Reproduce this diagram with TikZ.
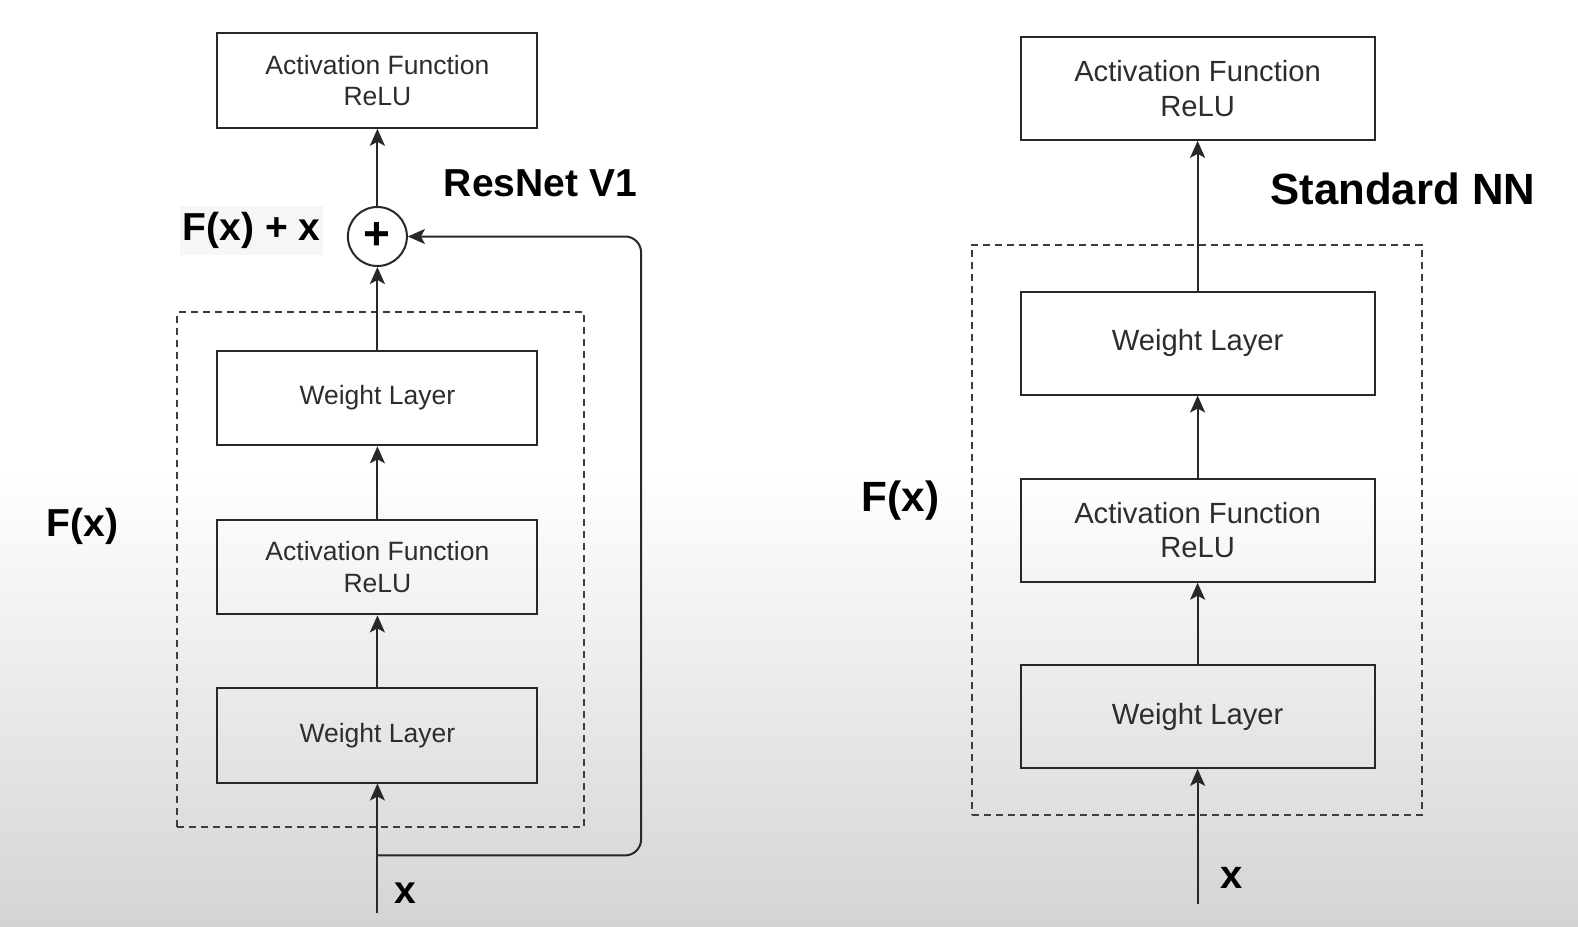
\documentclass[tikz,border=0pt]{standalone}
\usepackage{fontspec}
\setmainfont{Liberation Sans}
\usetikzlibrary{arrows.meta,calc}
\definecolor{bord}{RGB}{40,40,40}
\definecolor{txt}{RGB}{45,45,45}
\definecolor{bgbot}{RGB}{212,212,212}
\definecolor{lblbg}{RGB}{246,246,246}
\begin{document}
\begin{tikzpicture}[x=1pt,y=-1pt,
  blkL/.style={draw=bord, line width=2pt, text=txt, align=center, inner sep=0pt,
    minimum width=320pt, minimum height=94.6pt, font=\fontsize{26.5}{31.2}\selectfont},
  blkR/.style={draw=bord, line width=2pt, text=txt, align=center, inner sep=0pt,
    minimum width=354pt, minimum height=102.6pt, font=\fontsize{29.2}{34.2}\selectfont},
  arr/.style={draw=bord, line width=2pt, -{Stealth[length=17pt,width=15pt,inset=4pt]}},
  dashbox/.style={draw=bord!90, line width=2pt, dash pattern=on 7pt off 5pt},
  lbl/.style={text=black, inner sep=0pt, font=\bfseries\fontsize{#1}{#1}\selectfont},
  lbl/.default=39
]
\useasboundingbox (0,0) rectangle (1578,926);
\fill[white] (0,0) rectangle (1578,926);
\shade[top color=white, bottom color=bgbot] (0,470) rectangle (1578,926);

% ---------- Left: ResNet V1 ----------
\node[dashbox, minimum width=406.6pt, minimum height=515.3pt, inner sep=0pt] (fxL) at (380.4,569.7) {};
\node[blkL] (topL) at (377.4,80.5) {Activation Function\\ReLU};
\node[draw=bord, line width=2pt, circle, minimum size=59pt, inner sep=0pt,
      font=\bfseries\fontsize{46}{46}\selectfont] (plus) at (377.4,236.5) {+};
\node[blkL] (wl2L) at (377.4,398.0) {Weight Layer};
\node[blkL] (actL) at (377.4,567.1) {Activation Function\\ReLU};
\node[blkL] (wl1L) at (377.4,735.2) {Weight Layer};

\coordinate (inL) at (377.4,912.8);
\coordinate (split) at (377.4,855.4);
\coordinate (br) at (641.1,855.4);
\coordinate (tr) at (641.1,236.5);

\draw[arr] (inL) -- (wl1L.south);
\draw[arr] (wl1L.north) -- (actL.south);
\draw[arr] (actL.north) -- (wl2L.south);
\draw[arr] (wl2L.north) -- (plus.south);
\draw[arr] (plus.north) -- (topL.south);
\draw[arr, rounded corners=16pt] (split) -- (br) -- (tr) -- (plus.east);

\node[lbl] (xL) at (405.6,892.7) {x};
\node[lbl] (fxlabL) at (82.5,526.4) {F(x)};
\node[lbl, fill=lblbg, inner xsep=3pt, inner ysep=6pt] (sumlab) at (251.6,230.5) {F(x) + x};
\node[lbl] (titleL) at (540.4,183.2) {ResNet V1};

% ---------- Right: Standard NN ----------
\node[dashbox, minimum width=449.8pt, minimum height=570.6pt, inner sep=0pt] (fxR) at (1197.1,529.9) {};
\node[blkR] (topR) at (1197.6,88.5) {Activation Function\\ReLU};
\node[blkR] (wl2R) at (1197.6,343.2) {Weight Layer};
\node[blkR] (actR) at (1197.6,530.4) {Activation Function\\ReLU};
\node[blkR] (wl1R) at (1197.6,716.6) {Weight Layer};

\coordinate (inR) at (1197.6,903.8);
\draw[arr] (inR) -- (wl1R.south);
\draw[arr] (wl1R.north) -- (actR.south);
\draw[arr] (actR.north) -- (wl2R.south);
\draw[arr] (wl2R.north) -- (topR.south);

\node[lbl=40] (xR) at (1231.8,877.6) {x};
\node[lbl=42.3] (fxlabR) at (900.7,500.2) {F(x)};
\node[lbl=43.7] (titleR) at (1402.9,189.2) {Standard NN};
\end{tikzpicture}
\end{document}
